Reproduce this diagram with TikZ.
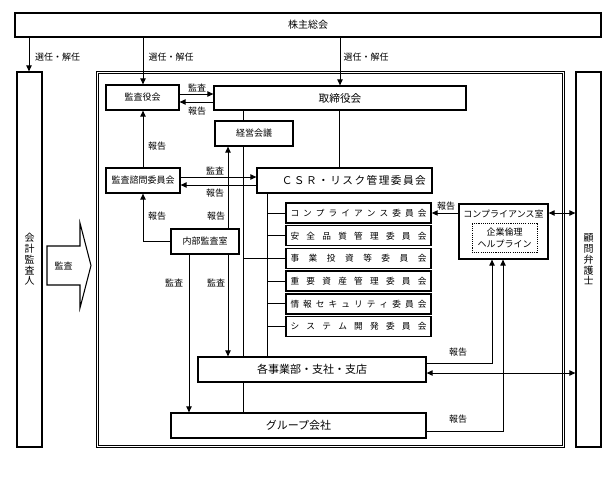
\documentclass[tikz,border=0pt]{standalone}
\usepackage{fontspec}
\setmainfont{Noto Sans CJK JP}
\usetikzlibrary{arrows.meta}
\newdimen\pxu \pxu=0.75pt
\newcommand\myfs[1]{\fontsize{#1}{#1}\selectfont}
\newcommand\bx[7][]{\node[box,#1,minimum width={(#4-#2)*\pxu},minimum height={(#5-#3)*\pxu}] (#6) at ({(#2+#4)/2},{(#3+#5)/2}) {#7};}
\begin{document}
\begin{tikzpicture}[x=0.75pt,y=-0.75pt,
  box/.style={draw,line width=0.9pt,inner sep=0pt,font=\myfs{6.75}},
  cbox/.style={box,line width=1.1pt,font=\myfs{6.5}},
  vbox/.style={box,align=center,font=\fontsize{7.5}{8.1}\selectfont},
  ln/.style={line width=0.75pt},
  arr/.style={ln,-{Triangle[length=4.5pt,width=4pt]}},
  darr/.style={ln,{Triangle[length=4.5pt,width=4pt]}-{Triangle[length=4.5pt,width=4pt]}},
  lbl/.style={font=\myfs{6.75},inner sep=0pt}]
\useasboundingbox (0,0) rectangle (613,480);
% frame
\draw[line width=0.7pt] (96,71) rectangle (564,447);
\draw[line width=0.7pt] (98,73) rectangle (562,445);
% boxes
\bx[font=\myfs{7.5}]{15}{13}{601}{37}{soukai}{株主総会}
\bx[vbox]{17}{72}{42}{447}{kaikei}{会\\計\\監\\査\\人}
\bx[vbox]{576}{72}{601}{447}{komon}{顧\\問\\弁\\護\\士}
\bx{106}{85}{179}{110}{kansayaku}{監査役会}
\bx[font=\myfs{8}]{214}{86}{466}{110}{torishimari}{取締役会}
\bx{215}{121}{293}{146}{keiei}{経営会議}
\bx{106}{168}{180}{193}{shimon}{監査諮問委員会}
\bx[font=\myfs{8}]{257}{168}{432}{193}{csr}{\hspace*{14pt}\makebox[108pt]{Ｃ\hfill Ｓ\hfill Ｒ\hfill ・\hfill リ\hfill ス\hfill ク\hfill 管\hfill 理\hfill 委\hfill 員\hfill 会}}
\bx[cbox]{286}{203}{431}{223}{c1}{\makebox[102pt]{コ\hfill ン\hfill プ\hfill ラ\hfill イ\hfill ア\hfill ン\hfill ス\hfill 委\hfill 員\hfill 会}}
\bx[cbox]{286}{225.7}{431}{245.7}{c2}{\makebox[102pt]{安\hfill 全\hfill 品\hfill 質\hfill 管\hfill 理\hfill 委\hfill 員\hfill 会}}
\bx[cbox]{286}{248.4}{431}{268.4}{c3}{\makebox[102pt]{事\hfill 業\hfill 投\hfill 資\hfill 等\hfill 委\hfill 員\hfill 会}}
\bx[cbox]{286}{271.1}{431}{291.1}{c4}{\makebox[102pt]{重\hfill 要\hfill 資\hfill 産\hfill 管\hfill 理\hfill 委\hfill 員\hfill 会}}
\bx[cbox]{286}{293.8}{431}{313.8}{c5}{\makebox[102pt]{情\hfill 報\hfill セ\hfill キ\hfill ュ\hfill リ\hfill テ\hfill ィ\hfill 委\hfill 員\hfill 会}}
\bx[cbox]{286}{316.5}{431}{336.5}{c6}{\makebox[102pt]{シ\hfill ス\hfill テ\hfill ム\hfill 開\hfill 発\hfill 委\hfill 員\hfill 会}}
\bx{459}{204}{548}{259}{comp}{}
\node[lbl] (comptxt) at (503.5,213.5) {コンプライアンス室};
\bx[dash pattern=on 0.8pt off 0.8pt,line width=0.7pt,align=center,font=\fontsize{6.75}{9}\selectfont]{472}{223}{537}{252}{help}{企業倫理\\ヘルプライン}
\bx{171}{229}{239}{254}{naibu}{内部監査室}
\bx[font=\myfs{8.25}]{198}{357}{426}{382}{jigyo}{各事業部・支社・支店}
\bx[font=\myfs{8.25}]{171}{413}{426}{438}{group}{グループ会社}
% big arrow
\draw[line width=0.8pt] (47,246) -- (80,246) -- (80,223) -- (91,265.5) -- (80,308) -- (80,285) -- (47,285) -- cycle;
\node[lbl] (bigkansa) at (63.5,265.5) {監査};
% appointment arrows
\draw[arr] (soukai.south -| 29,0) -- (kaikei.north -| 29,0);
\draw[arr] (soukai.south -| 143,0) -- (kansayaku.north -| 143,0);
\draw[arr] (soukai.south -| 340,0) -- (torishimari.north -| 340,0);
\node[lbl] (s1) at (57.5,57) {選任・解任};
\node[lbl] (s2) at (171,57) {選任・解任};
\node[lbl] (s3) at (366,57) {選任・解任};
% kansayaku <-> torishimari
\draw[arr] (kansayaku.east |- 0,94) -- (torishimari.west |- 0,94);
\draw[arr] (torishimari.west |- 0,102) -- (kansayaku.east |- 0,102);
\node[lbl] (l1) at (197,88) {監査};
\node[lbl] (l2) at (197,111) {報告};
% trunk lines
\draw[ln] (torishimari.south -| 243,0) -- (keiei.north -| 243,0);
\draw[ln] (keiei.south -| 243,0) -- (jigyo.north -| 243,0);
\draw[ln] (jigyo.south -| 243,0) -- (group.north -| 243,0);
\draw[ln] (torishimari.south -| 339,0) -- (csr.north -| 339,0);
% shimon
\draw[arr] (shimon.north -| 143,0) -- (kansayaku.south -| 143,0);
\node[lbl] (l3) at (157,146) {報告};
\draw[arr] (shimon.east |- 0,177) -- (csr.west |- 0,177);
\draw[arr] (csr.west |- 0,185) -- (shimon.east |- 0,185);
\node[lbl] (l4) at (215,171) {監査};
\node[lbl] (l5) at (215,193) {報告};
% naibu
\draw[arr] (naibu.west) -| (shimon.south -| 143,0);
\node[lbl] (l6) at (157,216) {報告};
\draw[arr] (naibu.north -| 228,0) -- (keiei.south -| 228,0);
\node[lbl] (l7) at (216,216) {報告};
\draw[arr] (naibu.south -| 228,0) -- (jigyo.north -| 228,0);
\node[lbl] (l8) at (216,283) {監査};
\draw[arr] (naibu.south -| 189,0) -- (group.north -| 189,0);
\node[lbl] (l9) at (174,283) {監査};
% committees
\draw[ln] (csr.south -| 267,0) -- (jigyo.north -| 267,0);
\draw[ln] (c1.west -| 267,0) -- (c1.west);
\draw[ln] (c2.west -| 267,0) -- (c2.west);
\draw[ln] (c3.west -| 243,0) -- (c3.west);
\draw[ln] (c4.west -| 267,0) -- (c4.west);
\draw[ln] (c5.west -| 267,0) -- (c5.west);
\draw[ln] (c6.west -| 267,0) -- (c6.west);
% compliance
\draw[arr] (comp.west |- c1.east) -- (c1.east);
\node[lbl] (l10) at (446,206) {報告};
\draw[darr] (comp.east |- c1.east) -- (komon.west |- c1.east);
\draw[arr] (jigyo.east |- 0,363) -| (comp.south -| 492,0);
\node[lbl] (l11) at (458,352) {報告};
\draw[arr] (group.east |- 0,431) -| (comp.south -| 503,0);
\node[lbl] (l12) at (458,419) {報告};
\draw[darr] (jigyo.east |- 0,373) -- (komon.west |- 0,373);
\end{tikzpicture}
\end{document}
